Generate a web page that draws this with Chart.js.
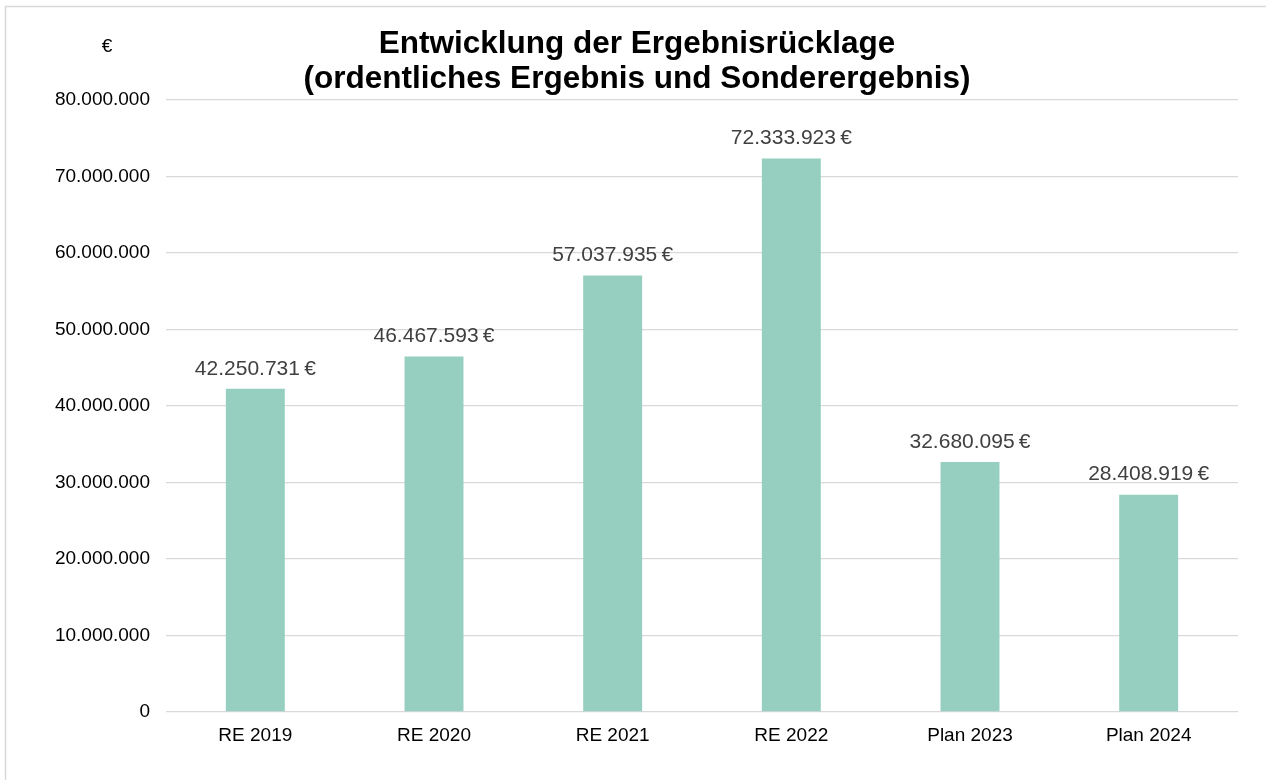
<!DOCTYPE html>
<html>
<head>
<meta charset="utf-8">
<script src="https://cdn.jsdelivr.net/npm/chart.js@4.4.0/dist/chart.umd.min.js"></script>
<style>
  html, body { margin: 0; padding: 0; background: #fff; }
  #wrap { width: 1266px; height: 780px; }
</style>
</head>
<body>
<div id="wrap"><canvas id="chart" width="1266" height="780"></canvas></div>
<script>
const categories = ["RE 2019", "RE 2020", "RE 2021", "RE 2022", "Plan 2023", "Plan 2024"];
const reserveValues = [42250731, 46467593, 57037935, 72333923, 32680095, 28408919];
const titleLines = ["Entwicklung der Ergebnisrücklage", "(ordentliches Ergebnis und Sonderergebnis)"];
const unitLabel = "€";

const FONT = "'Liberation Sans', Arial, sans-serif";

function formatDE(n) {
    return Math.round(n).toString().replace(/\B(?=(\d{3})+(?!\d))/g, ".");
}

// frame around the whole chart + the unit label above the axis
const framePlugin = {
    id: "frame",
    beforeDraw(chart) {
        const ctx = chart.ctx;
        ctx.save();
        ctx.fillStyle = "#fff";
        ctx.fillRect(0, 0, chart.width, chart.height);
        ctx.strokeStyle = "#d9d9d9";
        ctx.lineWidth = 1.5;
        ctx.strokeRect(5.5, 6.5, chart.width, chart.height);
        ctx.restore();
    },
    afterDraw(chart) {
        const ctx = chart.ctx;
        ctx.save();
        ctx.font = "19px " + FONT;
        ctx.fillStyle = "#000";
        ctx.textAlign = "center";
        ctx.textBaseline = "middle";
        ctx.fillText(unitLabel, chart.chartArea.left - 59, 47);
        ctx.restore();
    }
};

// value labels above the bars
const valueLabelPlugin = {
    id: "valueLabels",
    afterDatasetsDraw(chart) {
        const ctx = chart.ctx;
        const meta = chart.getDatasetMeta(0);
        ctx.save();
        ctx.font = "21px " + FONT;
        ctx.fillStyle = "#404040";
        ctx.textAlign = "center";
        ctx.textBaseline = "middle";
        meta.data.forEach((bar, i) => {
            ctx.fillText(formatDE(reserveValues[i]) + "\u2009€", bar.x, bar.y - 20);
        });
        ctx.restore();
    }
};

new Chart(document.getElementById("chart"), {
    type: "bar",
    data: {
        labels: categories,
        datasets: [{
            data: reserveValues,
            backgroundColor: "#96cfc0",
            borderWidth: 0,
            barPercentage: 0.33,
            categoryPercentage: 1.0
        }]
    },
    options: {
        responsive: false,
        animation: false,
        layout: { padding: { left: 36, right: 28, top: 0, bottom: 0 } },
        plugins: {
            legend: { display: false },
            tooltip: { enabled: false },
            title: {
                display: true,
                text: titleLines,
                color: "#000",
                font: { family: FONT, size: 31.5, weight: "bold", lineHeight: 1.11 },
                padding: { top: 26.5, bottom: 3.5 }
            }
        },
        scales: {
            x: {
                grid: { display: false, drawTicks: false },
                border: { display: false },
                ticks: { color: "#000", font: { family: FONT, size: 19 }, padding: 12 },
                afterFit(scale) { scale.height = 68; }
            },
            y: {
                min: 0,
                max: 80000000,
                grid: { color: "#d9d9d9", lineWidth: 1.3, drawTicks: false },
                border: { display: false },
                ticks: {
                    stepSize: 10000000,
                    color: "#000",
                    padding: 16,
                    font: { family: FONT, size: 19 },
                    callback: v => formatDE(v)
                },
                afterFit(scale) { scale.width = 130; }
            }
        }
    },
    plugins: [framePlugin, valueLabelPlugin]
});
</script>
</body>
</html>
